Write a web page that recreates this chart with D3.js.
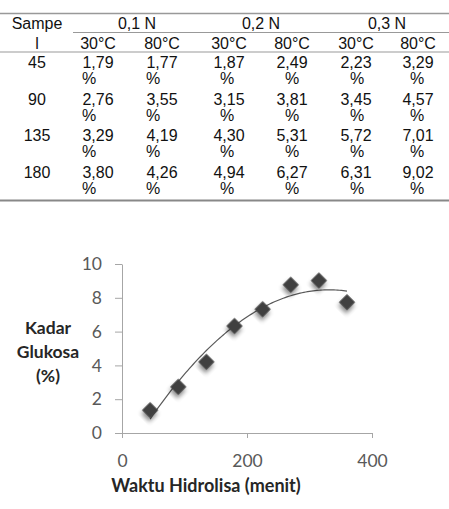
<!DOCTYPE html>
<html>
<head>
<meta charset="utf-8">
<script src="https://cdn.jsdelivr.net/npm/d3@7"></script>
<style>
  body { margin: 0; background: #fff; }
  svg { display: block; }
</style>
</head>
<body>
<svg id="chart"></svg>
<script>
// table data
const sampleTimes = ['45', '90', '135', '180'];
const groups = ['0,1 N', '0,2 N', '0,3 N'];
const temps = ['30°C', '80°C'];
const tableValues = [
  ['1,79', '1,77', '1,87', '2,49', '2,23', '3,29'],
  ['2,76', '3,55', '3,15', '3,81', '3,45', '4,57'],
  ['3,29', '4,19', '4,30', '5,31', '5,72', '7,01'],
  ['3,80', '4,26', '4,94', '6,27', '6,31', '9,02']
];

// scatter data
const waktu = [45, 90, 135, 180, 225, 270, 315, 360];
const kadar = [1.35, 2.73, 4.21, 6.33, 7.32, 8.77, 9.02, 7.74];
const yTicks = [0, 2, 4, 6, 8, 10];
const xTicks = [0, 200, 400];

const W = 449, H = 509;
const svg = d3.select('#chart').attr('width', W).attr('height', H);

// ---- table ----
const tfont = "'Liberation Sans', Arial, sans-serif";
const colCenters = [98, 162, 229, 292, 356, 418];
const pctShift = [-9, -9, -2, 0, 1, -1];
const groupCenters = [137, 261, 387];

const tbl = svg.append('g').attr('font-family', tfont).attr('font-size', 16).attr('fill', '#111');

tbl.append('line').attr('x1', 0).attr('x2', W).attr('y1', 13.5).attr('y2', 13.5)
  .attr('stroke', '#999').attr('stroke-width', 1.5);
tbl.append('line').attr('x1', 73).attr('x2', W).attr('y1', 32.5).attr('y2', 32.5)
  .attr('stroke', '#999').attr('stroke-width', 1.2);
tbl.append('line').attr('x1', 0).attr('x2', W).attr('y1', 52).attr('y2', 52)
  .attr('stroke', '#999').attr('stroke-width', 1.2);
tbl.append('line').attr('x1', 0).attr('x2', W).attr('y1', 200.5).attr('y2', 200.5)
  .attr('stroke', '#888').attr('stroke-width', 2);

tbl.append('text').attr('x', 37).attr('y', 29).attr('text-anchor', 'middle').text('Sampe');
tbl.append('text').attr('x', 37).attr('y', 49).attr('text-anchor', 'middle').text('l');

tbl.selectAll('.grp').data(groups).enter().append('text')
  .attr('x', (d, i) => groupCenters[i]).attr('y', 29)
  .attr('text-anchor', 'middle').text(d => d);

tbl.selectAll('.tmp').data(d3.range(6)).enter().append('text')
  .attr('x', i => colCenters[i]).attr('y', 49)
  .attr('text-anchor', 'middle').text(i => temps[i % 2]);

sampleTimes.forEach((s, r) => {
  const base = 68 + r * 36.7;
  tbl.append('text').attr('x', 37).attr('y', base).attr('text-anchor', 'middle').text(s);
  tableValues[r].forEach((v, c) => {
    tbl.append('text').attr('x', colCenters[c]).attr('y', base)
      .attr('text-anchor', 'middle').text(v);
    tbl.append('text').attr('x', colCenters[c] + pctShift[c]).attr('y', base + 16)
      .attr('text-anchor', 'middle').text('%');
  });
});

// ---- chart ----
const cfont = "Lato, 'Open Sans', sans-serif";
const x = d3.scaleLinear().domain([0, 400]).range([122, 372]);
const y = d3.scaleLinear().domain([0, 10]).range([433, 264]);

const defs = svg.append('defs');
const f = defs.append('filter').attr('id', 'shadow')
  .attr('x', '-50%').attr('y', '-50%').attr('width', '200%').attr('height', '200%');
f.append('feDropShadow').attr('dx', 2).attr('dy', 3).attr('stdDeviation', 2)
  .attr('flood-color', '#000').attr('flood-opacity', 0.45);

const yAxis = svg.append('g').attr('transform', `translate(${x(0)},0)`)
  .call(d3.axisLeft(y).tickValues(yTicks).tickSize(7).tickSizeOuter(0).tickPadding(13));
const xAxis = svg.append('g').attr('transform', `translate(0,${y(0)})`)
  .call(d3.axisBottom(x).tickValues(xTicks).tickSize(5).tickSizeOuter(0).tickPadding(17));

[xAxis, yAxis].forEach(a => {
  a.select('.domain').attr('stroke', '#a6a6a6');
  a.selectAll('.tick line').attr('stroke', '#a6a6a6');
  a.selectAll('.tick text').attr('fill', '#595959')
    .attr('font-family', cfont).attr('font-size', 17.5);
});

// quadratic least-squares trendline
function polyFit2(xs, ys) {
  let s = [0, 0, 0, 0, 0], t = [0, 0, 0];
  xs.forEach((xv, i) => {
    for (let k = 0; k < 5; k++) s[k] += Math.pow(xv, k);
    for (let k = 0; k < 3; k++) t[k] += Math.pow(xv, k) * ys[i];
  });
  const A = [[s[0], s[1], s[2], t[0]], [s[1], s[2], s[3], t[1]], [s[2], s[3], s[4], t[2]]];
  for (let i = 0; i < 3; i++) {
    for (let j = i + 1; j < 3; j++) {
      const m = A[j][i] / A[i][i];
      for (let k = i; k < 4; k++) A[j][k] -= m * A[i][k];
    }
  }
  const c = [0, 0, 0];
  for (let i = 2; i >= 0; i--) {
    let v = A[i][3];
    for (let k = i + 1; k < 3; k++) v -= A[i][k] * c[k];
    c[i] = v / A[i][i];
  }
  return xv => c[0] + c[1] * xv + c[2] * xv * xv;
}
const fit = polyFit2(waktu, kadar);
const trendX = d3.range(d3.min(waktu), d3.max(waktu) + 0.1, 3);

svg.append('path')
  .datum(trendX)
  .attr('fill', 'none').attr('stroke', '#595959').attr('stroke-width', 1.2)
  .attr('d', d3.line().x(d => x(d)).y(d => y(fit(d))));

svg.append('g').selectAll('path').data(waktu).enter().append('path')
  .attr('d', d3.symbol().type(d3.symbolSquare).size(132))
  .attr('transform', (d, i) => `translate(${x(d)},${y(kadar[i])}) rotate(45)`)
  .attr('fill', '#404040')
  .attr('filter', 'url(#shadow)');

// axis titles
const yt = svg.append('text').attr('font-family', cfont).attr('font-weight', 'bold')
  .attr('font-size', 17.5).attr('fill', '#262626').attr('text-anchor', 'middle');
['Kadar', 'Glukosa', '(%)'].forEach((s, i) => {
  yt.append('tspan').attr('x', 48).attr('y', 334 + i * 24).text(s);
});

svg.append('text').attr('x', 206).attr('y', 492)
  .attr('font-family', cfont).attr('font-weight', 'bold').attr('font-size', 18)
  .attr('fill', '#262626').attr('text-anchor', 'middle')
  .text('Waktu Hidrolisa (menit)');
</script>
</body>
</html>
